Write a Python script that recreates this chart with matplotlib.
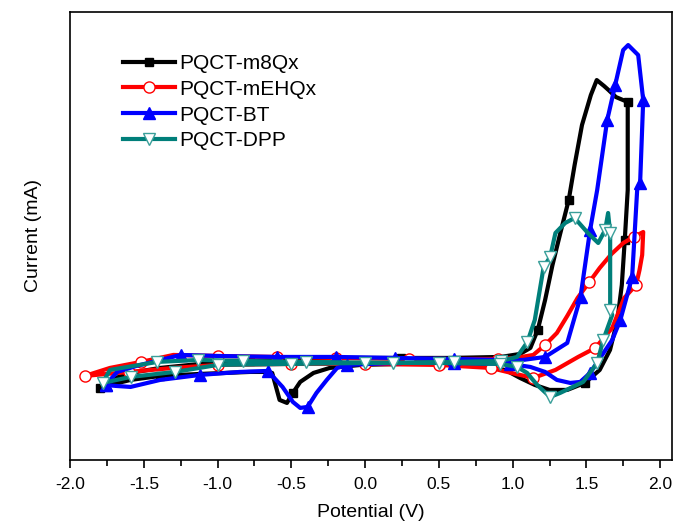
import matplotlib.pyplot as plt
from matplotlib.ticker import MultipleLocator

plt.rcParams['font.family'] = ['Liberation Sans', 'DejaVu Sans']
plt.rcParams['axes.unicode_minus'] = False

# PQCT-m8Qx (closed loop: forward then back)
m8qx_v = [-1.80, -1.73, -1.59, -1.39, -1.12, -0.78, -0.44, -0.10, 0.24, 0.58, 0.92, 1.05, 1.12,
          1.17, 1.22, 1.27, 1.32, 1.38, 1.42, 1.47, 1.53, 1.57, 1.62, 1.65, 1.70, 1.78,
          1.78, 1.78, 1.76, 1.74, 1.71, 1.66, 1.59, 1.49, 1.37, 1.25, 1.15, 1.05, 0.95, 0.78,
          0.51, 0.24, -0.03, -0.24, -0.35, -0.44, -0.49, -0.53, -0.58, -0.63, -0.68, -0.78,
          -1.12, -1.39, -1.59, -1.73, -1.80]
m8qx_i = [-0.28, -0.20, -0.13, -0.08, -0.04, -0.01, 0.01, 0.02, 0.02, 0.02, 0.03, 0.06, 0.12,
          0.30, 0.60, 0.95, 1.25, 1.60, 1.95, 2.35, 2.65, 2.80, 2.74, 2.70, 2.63, 2.58,
          2.20, 1.70, 1.20, 0.75, 0.40, 0.10, -0.10, -0.23, -0.30, -0.30, -0.25, -0.18, -0.10, -0.06,
          -0.04, -0.04, -0.05, -0.08, -0.13, -0.22, -0.33, -0.43, -0.40, -0.13, -0.12, -0.12,
          -0.14, -0.16, -0.20, -0.25, -0.28]

# PQCT-mEHQx
mehqx_v = [-1.90, -1.73, -1.52, -1.30, -1.00, -0.60, -0.20, 0.30, 0.70, 0.90, 1.02, 1.14, 1.22,
           1.30, 1.37, 1.44, 1.52, 1.59, 1.67, 1.75, 1.82, 1.885,
           1.878, 1.86, 1.837, 1.756, 1.675, 1.56, 1.444, 1.29, 1.14, 1.02, 0.85, 0.50, 0.0,
           -0.50, -1.00, -1.30, -1.60, -1.90]
mehqx_i = [-0.16, -0.08, -0.02, 0.05, 0.04, 0.03, 0.02, 0.01, 0.01, 0.01, 0.02, 0.05, 0.15,
           0.27, 0.44, 0.62, 0.78, 0.92, 1.06, 1.17, 1.23, 1.28,
           1.05, 0.90, 0.75, 0.62, 0.32, 0.12, 0.03, -0.10, -0.18, -0.14, -0.08, -0.05, -0.04,
           -0.04, -0.05, -0.08, -0.12, -0.16]

# PQCT-BT
bt_v = [-1.76, -1.68, -1.55, -1.25, -1.00, -0.60, -0.20, 0.20, 0.60, 0.92, 1.07, 1.22, 1.37,
        1.46, 1.525, 1.573, 1.641, 1.695, 1.749, 1.783, 1.851, 1.885, 1.864, 1.844, 1.81,
        1.73, 1.675, 1.593, 1.525, 1.458, 1.39, 1.30, 1.22, 1.12, 0.98, 0.60, 0.20, -0.12,
        -0.19, -0.26, -0.33, -0.39, -0.44, -0.49, -0.56, -0.66, -0.85, -1.12, -1.39, -1.59,
        -1.69, -1.76]
bt_i = [-0.25, -0.12, -0.06, 0.05, 0.04, 0.03, 0.03, 0.02, 0.01, 0.0, 0.0, 0.03, 0.17,
        0.63, 1.30, 1.70, 2.40, 2.75, 3.10, 3.15, 3.05, 2.60, 1.77, 1.70, 0.83,
        0.40, 0.20, 0.02, -0.13, -0.22, -0.23, -0.20, -0.12, -0.07, -0.04, -0.03, -0.03, -0.05,
        -0.08, -0.20, -0.33, -0.47, -0.48, -0.42, -0.27, -0.11, -0.12, -0.15, -0.20, -0.27,
        -0.26, -0.25]

# PQCT-DPP
dpp_v = [-1.78, -1.73, -1.41, -1.13, -0.83, -0.40, 0.19, 0.60, 0.92, 1.03, 1.10, 1.15, 1.21,
         1.254, 1.29, 1.356, 1.42, 1.51, 1.58, 1.627, 1.647, 1.661, 1.661, 1.675, 1.614,
         1.573, 1.478, 1.322, 1.254, 1.166, 1.098, 1.031, 0.915, 0.50, 0.0, -0.50, -1.00,
         -1.29, -1.59, -1.78]
dpp_i = [-0.23, -0.10, -0.02, 0.0, -0.01, -0.02, -0.03, -0.02, -0.01, 0.03, 0.18, 0.40, 0.93,
         1.03, 1.27, 1.37, 1.42, 1.27, 1.17, 1.30, 1.47, 1.27, 0.50, 0.45, 0.20,
         -0.03, -0.22, -0.33, -0.37, -0.25, -0.13, -0.07, -0.04, -0.03, -0.03, -0.04, -0.05,
         -0.12, -0.17, -0.23]

fig = plt.figure(figsize=(6.74, 5.25), dpi=100)
ax = fig.add_axes([0.104, 0.124, 0.893, 0.853])

ax.plot(m8qx_v, m8qx_i, color='black', lw=3, marker='s', ms=6, markevery=0.2,
        label='PQCT-m8Qx')
ax.plot(mehqx_v, mehqx_i, color='red', lw=3, marker='o', ms=8, mfc='white', mec='red',
        mew=1, markevery=0.09, label='PQCT-mEHQx')
ax.plot(bt_v, bt_i, color='blue', lw=3, marker='^', ms=8, markevery=0.1,
        label='PQCT-BT')
ax.plot(dpp_v, dpp_i, color='#007f7a', lw=3, marker='v', ms=9, mfc='white', mec='#3a9f9a',
        mew=1, markevery=0.06, label='PQCT-DPP')

ax.set_xlim(-2.0, 2.08)
ax.set_ylim(-1.0, 3.48)
ax.xaxis.set_major_locator(MultipleLocator(0.5))
ax.xaxis.set_minor_locator(MultipleLocator(0.25))
ax.tick_params(axis='x', which='major', direction='out', length=6, width=1.2,
               labelsize=12.5, pad=6)
ax.tick_params(axis='x', which='minor', direction='out', length=4, width=1.2)
ax.set_yticks([])
for s in ax.spines.values():
    s.set_linewidth(1.2)

ax.set_xlabel('Potential (V)', fontsize=14, labelpad=9)
ax.set_ylabel('Current (mA)', fontsize=14, labelpad=20)

ax.legend(loc='upper left', bbox_to_anchor=(0.07, 0.93), frameon=False, fontsize=15,
          handlelength=2.5, labelspacing=0.33, handletextpad=0.2, borderpad=0)

fig.savefig('out.png', dpi=100)
